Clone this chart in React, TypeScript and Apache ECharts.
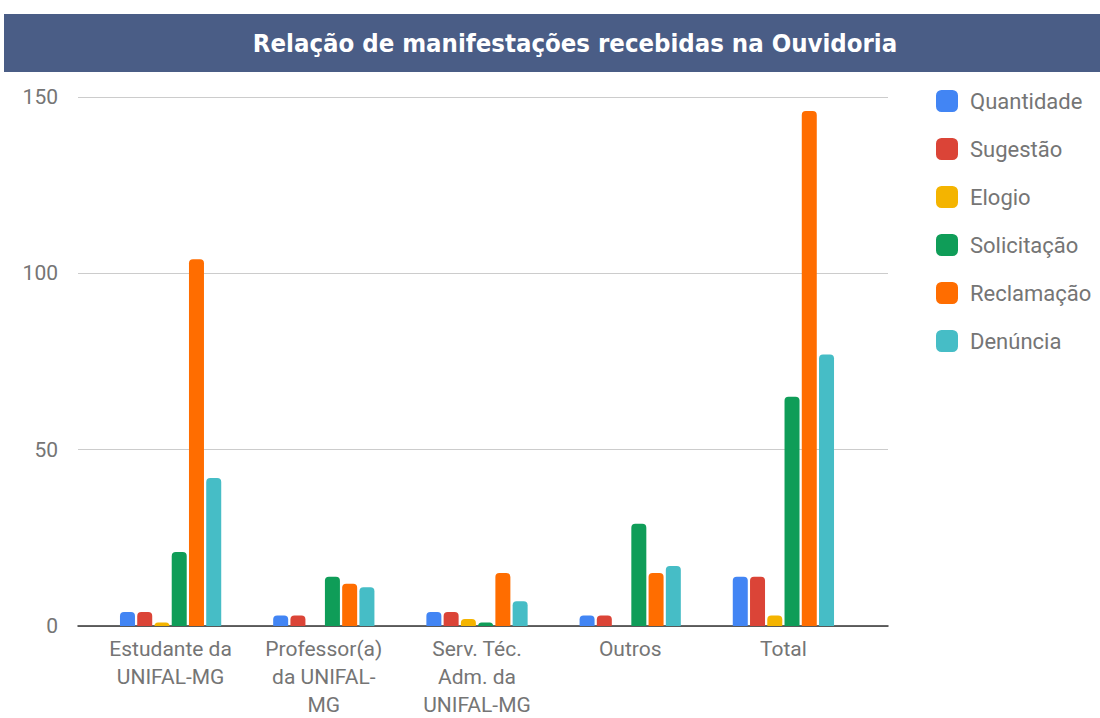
import React, { useEffect, useRef } from "react";
import * as echarts from "echarts";

const categories = ["Estudante da UNIFAL-MG", "Professor(a) da UNIFAL-MG", "Serv. Téc. Adm. da UNIFAL-MG", "Outros", "Total"];
const categoryLabels = ["Estudante da\nUNIFAL-MG", "Professor(a)\nda UNIFAL-\nMG", "Serv. Téc.\nAdm. da\nUNIFAL-MG", "Outros", "Total"];
const seriesNames = ["Quantidade", "Sugestão", "Elogio", "Solicitação", "Reclamação", "Denúncia"];
const quantidade = [4, 3, 4, 3, 14];
const sugestao = [4, 3, 4, 3, 14];
const elogio = [1, 0, 2, 0, 3];
const solicitacao = [21, 14, 1, 29, 65];
const reclamacao = [104, 12, 15, 15, 146];
const denuncia = [42, 11, 7, 17, 77];
const colors = ["#4285f4", "#db4437", "#f4b400", "#0f9d58", "#ff6d00", "#46bdc6"];
const title = "Relação de manifestações recebidas na Ouvidoria";

export default function App() {
  const ref = useRef<HTMLDivElement>(null);
  useEffect(() => {
    const chart = echarts.init(ref.current!, null, { renderer: "svg" });
    const values = [quantidade, sugestao, elogio, solicitacao, reclamacao, denuncia];
    const font = "Roboto, sans-serif";
    chart.setOption({
      animation: false,
      backgroundColor: "#ffffff",
      color: colors,
      graphic: [
        { type: "rect", shape: { x: 4, y: 14, width: 1096, height: 58 }, style: { fill: "#4a5d86" } },
        {
          type: "text", x: 575, y: 43,
          style: { text: title, fill: "#ffffff", font: "bold 25.5px 'DejaVu Sans Condensed', 'Open Sans', sans-serif", textAlign: "center", textVerticalAlign: "middle" },
        },
      ],
      legend: {
        orient: "vertical", left: 931, top: 85, itemWidth: 22, itemHeight: 22, itemGap: 26,
        icon: "roundRect",
        textStyle: { fontFamily: font, fontSize: 22, color: "#757575", padding: [0, 0, 0, 7] },
        data: seriesNames,
      },
      grid: [
        { left: 78, right: 212, top: 97, bottom: 92, outerBoundsMode: "none" },
        { left: 94, right: 240, top: 97, bottom: 92, outerBoundsMode: "none" },
      ],
      xAxis: [
        { type: "category", gridIndex: 0, data: categories, axisLine: { lineStyle: { color: "#333", width: 1.5 } }, axisTick: { show: false }, axisLabel: { show: false } },
        {
          type: "category", gridIndex: 1, data: categories,
          axisLine: { show: false }, axisTick: { show: false },
          axisLabel: {
            interval: 0, margin: 9, fontFamily: font, fontSize: 21, color: "#757575", lineHeight: 28,
            formatter: (_v: string, i: number) => categoryLabels[i],
          },
        },
      ],
      yAxis: [
        {
          type: "value", gridIndex: 0, min: 0, max: 150, interval: 50,
          axisLine: { show: false }, axisTick: { show: false },
          axisLabel: { margin: 20, fontFamily: font, fontSize: 21, color: "#757575" },
          splitLine: { lineStyle: { color: "#cccccc" } },
        },
        { type: "value", gridIndex: 1, min: 0, max: 150, interval: 50, show: false, splitLine: { show: false } },
      ],
      series: values.map((d, i) => ({
        name: seriesNames[i], type: "bar", xAxisIndex: 1, yAxisIndex: 1, data: d,
        barWidth: 15, barGap: "15%",
        itemStyle: { color: colors[i], borderRadius: [4, 4, 0, 0] },
      })),
    });
    return () => chart.dispose();
  }, []);
  return <div ref={ref} style={{ position: "fixed", left: 0, top: 0, width: 1100, height: 718 }} />;
}
